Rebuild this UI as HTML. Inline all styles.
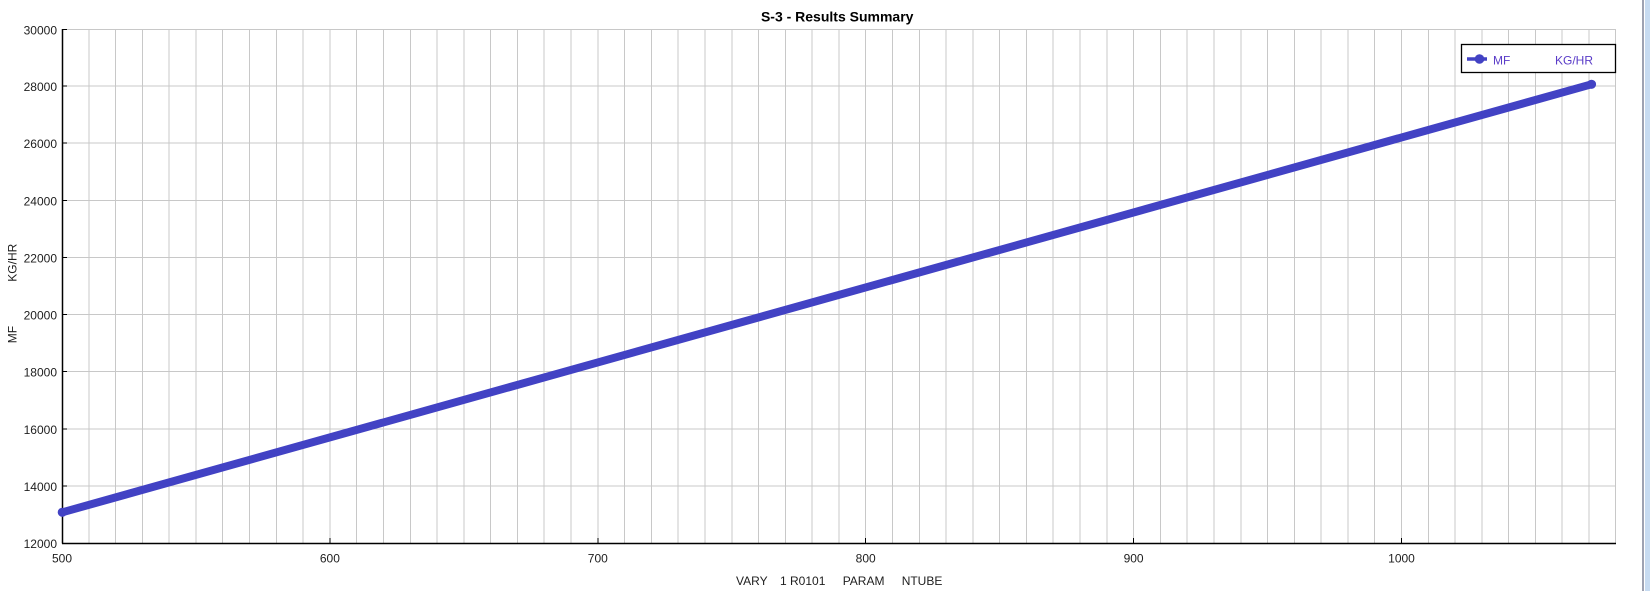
<!DOCTYPE html>
<html><head><meta charset="utf-8"><style>
html,body{margin:0;padding:0;background:#fff;}
svg{display:block;}
text{font-family:"Liberation Sans",sans-serif;}
</style></head><body>
<svg width="1650" height="591" viewBox="0 0 1650 591" xmlns="http://www.w3.org/2000/svg">
<rect x="0" y="0" width="1650" height="591" fill="#fff"/>
<!-- right window edge -->
<rect x="1642" y="0" width="2" height="591" fill="#9ea2b2"/>
<rect x="1645" y="0" width="5" height="591" fill="#c7dbf1"/>
<!-- title -->
<text x="837.2" y="21.5" font-size="14" font-weight="bold" text-anchor="middle" fill="#000">S-3 - Results Summary</text>
<!-- grid -->
<g stroke="#c8c8c8" stroke-width="1" shape-rendering="crispEdges">
<line x1="88.8" y1="29" x2="88.8" y2="543"/><line x1="115.6" y1="29" x2="115.6" y2="543"/><line x1="142.4" y1="29" x2="142.4" y2="543"/><line x1="169.2" y1="29" x2="169.2" y2="543"/><line x1="196" y1="29" x2="196" y2="543"/><line x1="222.7" y1="29" x2="222.7" y2="543"/><line x1="249.5" y1="29" x2="249.5" y2="543"/><line x1="276.3" y1="29" x2="276.3" y2="543"/><line x1="303.1" y1="29" x2="303.1" y2="543"/><line x1="329.9" y1="29" x2="329.9" y2="543"/>
<line x1="356.7" y1="29" x2="356.7" y2="543"/><line x1="383.5" y1="29" x2="383.5" y2="543"/><line x1="410.3" y1="29" x2="410.3" y2="543"/><line x1="437.1" y1="29" x2="437.1" y2="543"/><line x1="463.9" y1="29" x2="463.9" y2="543"/><line x1="490.6" y1="29" x2="490.6" y2="543"/><line x1="517.4" y1="29" x2="517.4" y2="543"/><line x1="544.2" y1="29" x2="544.2" y2="543"/><line x1="571" y1="29" x2="571" y2="543"/><line x1="597.8" y1="29" x2="597.8" y2="543"/>
<line x1="624.6" y1="29" x2="624.6" y2="543"/><line x1="651.4" y1="29" x2="651.4" y2="543"/><line x1="678.2" y1="29" x2="678.2" y2="543"/><line x1="705" y1="29" x2="705" y2="543"/><line x1="731.8" y1="29" x2="731.8" y2="543"/><line x1="758.5" y1="29" x2="758.5" y2="543"/><line x1="785.3" y1="29" x2="785.3" y2="543"/><line x1="812.1" y1="29" x2="812.1" y2="543"/><line x1="838.9" y1="29" x2="838.9" y2="543"/><line x1="865.7" y1="29" x2="865.7" y2="543"/>
<line x1="892.5" y1="29" x2="892.5" y2="543"/><line x1="919.3" y1="29" x2="919.3" y2="543"/><line x1="946.1" y1="29" x2="946.1" y2="543"/><line x1="972.9" y1="29" x2="972.9" y2="543"/><line x1="999.7" y1="29" x2="999.7" y2="543"/><line x1="1026.4" y1="29" x2="1026.4" y2="543"/><line x1="1053.2" y1="29" x2="1053.2" y2="543"/><line x1="1080" y1="29" x2="1080" y2="543"/><line x1="1106.8" y1="29" x2="1106.8" y2="543"/><line x1="1133.6" y1="29" x2="1133.6" y2="543"/>
<line x1="1160.4" y1="29" x2="1160.4" y2="543"/><line x1="1187.2" y1="29" x2="1187.2" y2="543"/><line x1="1214" y1="29" x2="1214" y2="543"/><line x1="1240.8" y1="29" x2="1240.8" y2="543"/><line x1="1267.6" y1="29" x2="1267.6" y2="543"/><line x1="1294.3" y1="29" x2="1294.3" y2="543"/><line x1="1321.1" y1="29" x2="1321.1" y2="543"/><line x1="1347.9" y1="29" x2="1347.9" y2="543"/><line x1="1374.7" y1="29" x2="1374.7" y2="543"/><line x1="1401.5" y1="29" x2="1401.5" y2="543"/>
<line x1="1428.3" y1="29" x2="1428.3" y2="543"/><line x1="1455.1" y1="29" x2="1455.1" y2="543"/><line x1="1481.9" y1="29" x2="1481.9" y2="543"/><line x1="1508.7" y1="29" x2="1508.7" y2="543"/><line x1="1535.5" y1="29" x2="1535.5" y2="543"/><line x1="1562.2" y1="29" x2="1562.2" y2="543"/><line x1="1589" y1="29" x2="1589" y2="543"/><line x1="1615.5" y1="29" x2="1615.5" y2="543"/>
<line x1="62" y1="29.5" x2="1616" y2="29.5"/><line x1="62" y1="86.1" x2="1616" y2="86.1"/><line x1="62" y1="143.2" x2="1616" y2="143.2"/><line x1="62" y1="200.3" x2="1616" y2="200.3"/><line x1="62" y1="257.4" x2="1616" y2="257.4"/><line x1="62" y1="314.6" x2="1616" y2="314.6"/><line x1="62" y1="371.7" x2="1616" y2="371.7"/><line x1="62" y1="428.8" x2="1616" y2="428.8"/><line x1="62" y1="485.9" x2="1616" y2="485.9"/>
</g>
<!-- axes -->
<g stroke="#000" stroke-width="1.5">
<line x1="62.5" y1="29" x2="62.5" y2="543.5"/>
<line x1="62" y1="543.5" x2="1616" y2="543.5"/>
</g>
<g stroke="#000" stroke-width="1" shape-rendering="crispEdges">
<line x1="62" y1="29.5" x2="67" y2="29.5"/><line x1="62" y1="86.1" x2="67" y2="86.1"/><line x1="62" y1="143.2" x2="67" y2="143.2"/><line x1="62" y1="200.3" x2="67" y2="200.3"/><line x1="62" y1="257.4" x2="67" y2="257.4"/><line x1="62" y1="314.6" x2="67" y2="314.6"/><line x1="62" y1="371.7" x2="67" y2="371.7"/><line x1="62" y1="428.8" x2="67" y2="428.8"/><line x1="62" y1="485.9" x2="67" y2="485.9"/>
<line x1="329.9" y1="538" x2="329.9" y2="543"/><line x1="597.8" y1="538" x2="597.8" y2="543"/><line x1="865.7" y1="538" x2="865.7" y2="543"/><line x1="1133.6" y1="538" x2="1133.6" y2="543"/><line x1="1401.5" y1="538" x2="1401.5" y2="543"/>
</g>
<!-- y tick labels -->
<g font-size="12" fill="#1e1e1e" text-anchor="end">
<text x="57" y="34.3">30000</text><text x="57" y="91.1">28000</text><text x="57" y="148.2">26000</text><text x="57" y="205.3">24000</text><text x="57" y="262.4">22000</text><text x="57" y="319.6">20000</text><text x="57" y="376.7">18000</text><text x="57" y="433.8">16000</text><text x="57" y="490.9">14000</text><text x="57" y="548">12000</text>
</g>
<!-- x tick labels -->
<g font-size="12" fill="#1e1e1e" text-anchor="middle">
<text x="62" y="562.7">500</text><text x="329.9" y="562.7">600</text><text x="597.8" y="562.7">700</text><text x="865.7" y="562.7">800</text><text x="1133.6" y="562.7">900</text><text x="1401.5" y="562.7">1000</text>
</g>
<!-- x axis title -->
<g font-size="12" fill="#1e1e1e">
<text x="736" y="585">VARY</text><text x="780" y="585">1</text><text x="790" y="585">R0101</text><text x="842.7" y="585">PARAM</text><text x="901.7" y="585">NTUBE</text>
</g>
<!-- y axis title -->
<g font-size="12" fill="#1e1e1e">
<text transform="translate(16.5,343.3) rotate(-90)">MF</text>
<text transform="translate(16.5,281.7) rotate(-90)">KG/HR</text>
</g>
<!-- series -->
<line x1="62.3" y1="512.3" x2="1591.5" y2="84.3" stroke="#4242c4" stroke-width="8" stroke-linecap="round"/>
<circle cx="62.3" cy="512.3" r="4.6" fill="#4242c4"/>
<circle cx="1591.5" cy="84.3" r="4.6" fill="#4242c4"/>
<!-- legend -->
<rect x="1461.5" y="44.5" width="154" height="28" fill="#fff" stroke="#000" stroke-width="1.3"/>
<line x1="1467" y1="59" x2="1487" y2="59" stroke="#4242c4" stroke-width="3.5"/>
<circle cx="1479.5" cy="59" r="4.8" fill="#4242c4"/>
<g font-size="12" fill="#5a3cc8">
<text x="1493" y="64.3">MF</text>
<text x="1555" y="64.3">KG/HR</text>
</g>
</svg>
</body></html>
